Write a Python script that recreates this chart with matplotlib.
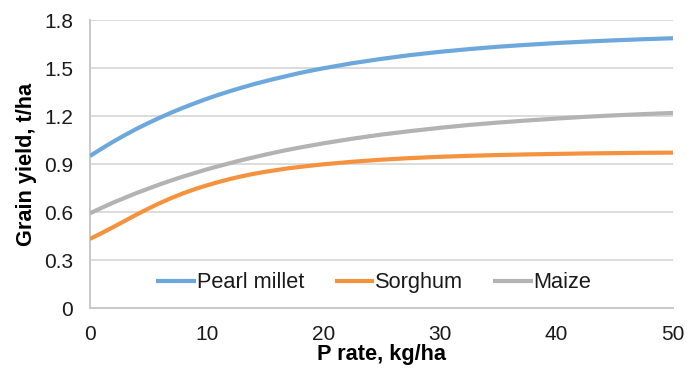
import numpy as np
import matplotlib.pyplot as plt

# P rate (kg/ha) and grain yield (t/ha)
p_rate = [0, 1, 2, 3, 4, 5, 6, 7, 8, 9, 10, 11, 12, 13, 14, 15, 16, 17, 18, 19, 20,
          22.5, 25, 27.5, 30, 32.5, 35, 37.5, 40, 42.5, 45, 47.5, 50]
pearl_millet = [0.950, 0.996, 1.040, 1.081, 1.120, 1.156, 1.190, 1.222, 1.252, 1.280,
                1.307, 1.332, 1.355, 1.377, 1.398, 1.417, 1.435, 1.452, 1.469, 1.484,
                1.498, 1.530, 1.557, 1.581, 1.601, 1.618, 1.633, 1.645, 1.656, 1.665,
                1.673, 1.680, 1.686]
sorghum = [0.432, 0.468, 0.506, 0.545, 0.584, 0.621, 0.656, 0.688, 0.717, 0.743,
           0.766, 0.787, 0.806, 0.823, 0.838, 0.851, 0.862, 0.873, 0.882, 0.890,
           0.898, 0.914, 0.927, 0.937, 0.945, 0.951, 0.956, 0.960, 0.963, 0.966,
           0.968, 0.970, 0.971]
maize = [0.592, 0.626, 0.659, 0.689, 0.719, 0.746, 0.773, 0.798, 0.822, 0.844,
         0.866, 0.886, 0.905, 0.924, 0.941, 0.958, 0.974, 0.989, 1.003, 1.016,
         1.029, 1.058, 1.084, 1.106, 1.126, 1.144, 1.159, 1.172, 1.184, 1.195,
         1.204, 1.212, 1.219]
series = ["Pearl millet", "Sorghum", "Maize"]
colours = ["#6CA8DC", "#F5923E", "#B3B3B3"]
y_ticks = [0, 0.3, 0.6, 0.9, 1.2, 1.5, 1.8]
y_labels = ["0", "0.3", "0.6", "0.9", "1.2", "1.5", "1.8"]
x_ticks = [0, 10, 20, 30, 40, 50]


def main():
    plt.rcParams["font.family"] = ["Liberation Sans", "DejaVu Sans"]
    plt.rcParams["text.color"] = "#1a1a1a"
    fig = plt.figure(figsize=(6.96, 3.68), dpi=100)
    ax = fig.add_axes([90 / 696, 1 - 308 / 368, 583 / 696, 288 / 368])

    for name, ys, c in zip(series, [pearl_millet, sorghum, maize], colours):
        ax.plot(p_rate, ys, color=c, lw=3.0, label=name, solid_capstyle="butt",
                solid_joinstyle="round", zorder=3)

    ax.set_xlim(0, 50)
    ax.set_ylim(0, 1.8)
    ax.set_yticks(y_ticks)
    ax.set_yticklabels(y_labels)
    ax.set_xticks(x_ticks)
    for yv in y_ticks[1:]:
        ax.axhline(yv, color="#d9d9d9", lw=1.3, zorder=1)
    for s in ["top", "right"]:
        ax.spines[s].set_visible(False)
    for s in ["left", "bottom"]:
        ax.spines[s].set_color("#c8c8c8")
        ax.spines[s].set_linewidth(1.4)
    ax.tick_params(axis="both", length=0, labelsize=15, labelcolor="#1a1a1a")
    ax.tick_params(axis="y", pad=12)
    ax.tick_params(axis="x", pad=12)

    ax.set_xlabel("P rate, kg/ha", fontsize=15.7, fontweight="bold", labelpad=0)
    ax.set_ylabel("Grain yield, t/ha", fontsize=15.7, fontweight="bold", labelpad=5)

    ax.legend(loc="center", bbox_to_anchor=(0.487, 0.087), ncol=3, frameon=False,
              fontsize=15.7, handlelength=1.8, handletextpad=0.05, columnspacing=1.4)

    fig.savefig("out.png", dpi=100)


if __name__ == "__main__":
    main()
